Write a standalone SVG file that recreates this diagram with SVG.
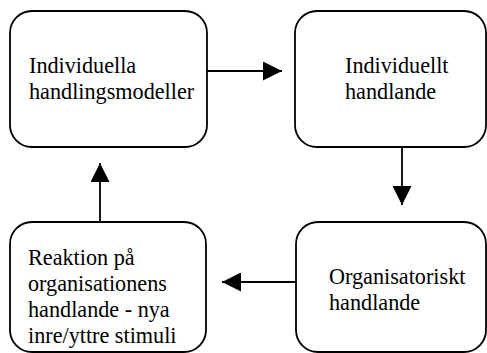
<svg xmlns="http://www.w3.org/2000/svg" width="487" height="353" viewBox="0 0 487 353">
<defs>
<style>
.box{fill:#fff;stroke:#000;stroke-width:1.8}
.t{font-family:"Liberation Serif","Times New Roman",serif;font-size:22.2px;fill:#000}
.c{stroke:#000;stroke-width:1.8;fill:none}
</style>
<marker id="ah" markerWidth="19" markerHeight="19" viewBox="0 0 19 19" refX="19" refY="9.5" orient="auto" markerUnits="userSpaceOnUse">
<path d="M0,0 L19,9.5 L0,19 Z" fill="#000"/>
</marker>
</defs>
<rect width="487" height="353" fill="#fff"/>
<g id="n1">
<rect class="box" x="10" y="11" width="197" height="136" rx="22" ry="22"/>
<text class="t" x="29" y="73">Individuella</text>
<text class="t" x="29" y="99">handlingsmodeller</text>
</g>
<g id="n2">
<rect class="box" x="295" y="11" width="191" height="136" rx="22" ry="22"/>
<text class="t" x="345" y="73">Individuellt</text>
<text class="t" x="345" y="99">handlande</text>
</g>
<g id="n3">
<rect class="box" x="296" y="222" width="190" height="130" rx="22" ry="22"/>
<text class="t" x="329" y="284">Organisatoriskt</text>
<text class="t" x="329" y="310">handlande</text>
</g>
<g id="n4">
<rect class="box" x="10" y="222" width="196" height="130" rx="22" ry="22"/>
<text class="t" x="28" y="265">Reaktion på</text>
<text class="t" x="28" y="291">organisationens</text>
<text class="t" x="28" y="317">handlande - nya</text>
<text class="t" x="28" y="343">inre/yttre stimuli</text>
</g>
<g id="connectors">
<line class="c" x1="207" y1="71" x2="282" y2="71" marker-end="url(#ah)"/>
<line class="c" x1="402" y1="147" x2="402" y2="205" marker-end="url(#ah)"/>
<line class="c" x1="296" y1="282" x2="222" y2="282" marker-end="url(#ah)"/>
<line class="c" x1="100" y1="222" x2="100" y2="163" marker-end="url(#ah)"/>
</g>
</svg>
